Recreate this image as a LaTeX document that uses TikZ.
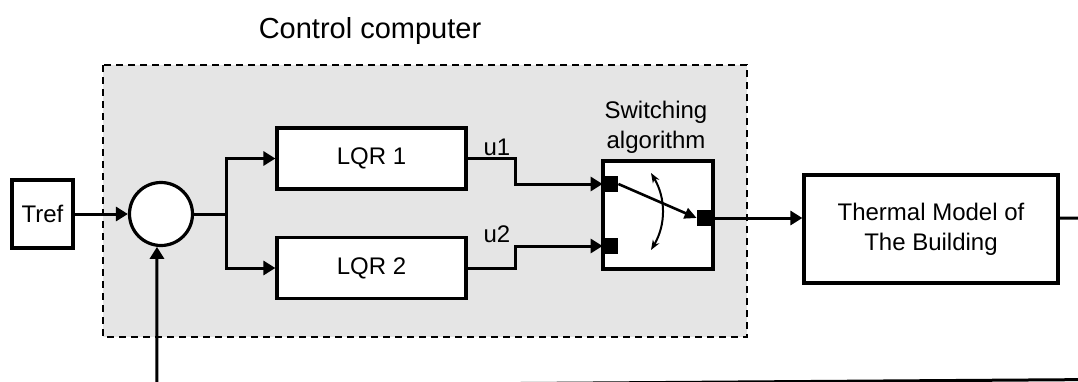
\documentclass[tikz,border=0pt]{standalone}
\usepackage{fontspec}
\setmainfont{Liberation Sans}
\usetikzlibrary{arrows.meta, calc}

\begin{document}
\begin{tikzpicture}[x=0.5pt, y=-0.5pt, font=\fontsize{12}{15}\selectfont, align=center,
    blk/.style={draw, line width=1.6pt, fill=white, inner sep=0pt},
    port/.style={fill=black, minimum width=7.5pt, minimum height=8pt, inner sep=0pt},
    arr/.style={line width=1.5pt, -{Triangle[length=6pt,width=7pt]}},
    ln/.style={line width=1.5pt}]
    \path[use as bounding box, clip] (0,0) rectangle (1078,381);
    % control computer area
    \draw[dash pattern=on 3.5pt off 2.5pt, line width=0.9pt, fill=black!10] (103,65) rectangle (747,337);
    \node[font=\fontsize{14.5}{18}\selectfont] (title) at (370,31) {Control computer};
    % blocks
    \node[blk, minimum width=30.5pt, minimum height=34pt] (tref) at (42.5,214) {Tref};
    \node[blk, circle, minimum size=31.5pt] (sum) at (161,214) {};
    \node[blk, minimum width=94.5pt, minimum height=30.5pt] (lqr1) at (371.5,158.5) {LQR 1};
    \node[blk, minimum width=94.5pt, minimum height=30.5pt] (lqr2) at (371.5,268) {LQR 2};
    \node[blk, minimum width=55pt, minimum height=54pt] (sw) at (658,215) {};
    \node (swlab) at (656,127) {Switching\\algorithm};
    \node[port] (p1) at (610.5,184) {};
    \node[port] (p2) at (610.5,246) {};
    \node[port] (po) at (704.5,218) {};
    \node[blk, minimum width=127pt, minimum height=54pt] (therm) at (931,229) {Thermal Model of\\The Building};
    \node (u1) at (497,147) {u1};
    \node (u2) at (497,234) {u2};
    % connectors
    \coordinate (br) at (226,214);
    \draw[arr] (tref) -- (sum);
    \draw[ln] (sum.east) -- (br);
    \draw[arr] (br) |- (lqr1.west);
    \draw[arr] (br) |- (lqr2.west);
    \draw[arr] (lqr1.east) -- ++(48,0) |- (p1.west);
    \draw[arr] (lqr2.east) -- ++(48,0) |- (p2.west);
    % switch symbol
    \draw[line width=1.3pt, -{Triangle[length=6pt,width=5.5pt]}] (p1.east) -- (po.west);
    \draw[line width=1pt, {Stealth[length=5pt]}-{Stealth[length=5pt]}] (651,173) .. controls (666,198) and (666,225) .. (651,250);
    \draw[arr] (po.east) -- (po.east -| therm.west);
    % feedback
    \coordinate (fb1) at (1100,218);
    \coordinate (fb2) at (1100,379.5);
    \coordinate (fb3) at (157,386);
    \draw[arr] (therm.east |- po.east) -- (fb1) -- (fb2) -- (fb3) -- (sum.263);
\end{tikzpicture}
\end{document}
